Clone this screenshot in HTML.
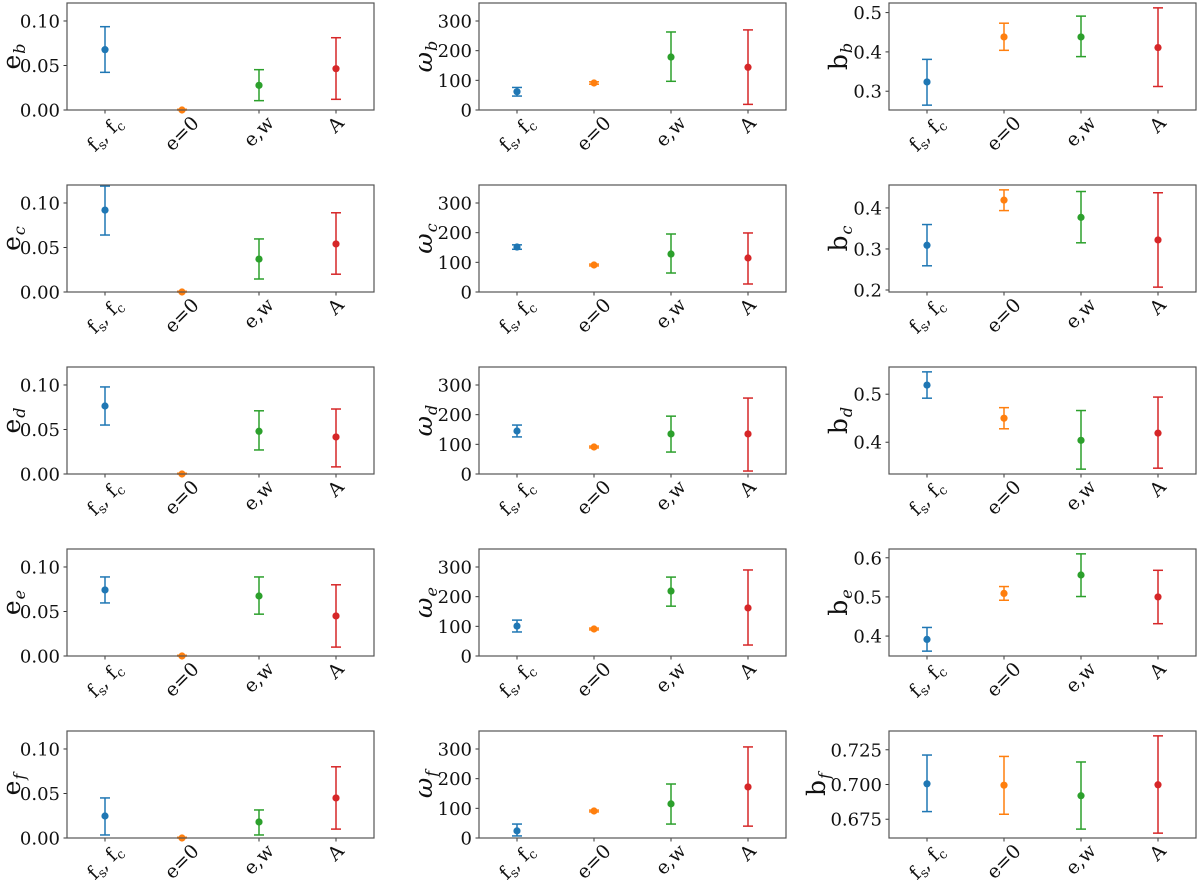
<!DOCTYPE html>
<html><head><meta charset="utf-8">
<style>
html,body{margin:0;padding:0;background:#fff;}
svg{display:block;font-family:"DejaVu Serif","Liberation Serif",serif;}
</style></head>
<body>
<svg id="fig" width="1200" height="885" viewBox="0 0 1200 885"></svg>
<script>
const categories = ["fs_fc","e=0","e,w","A"];
const colors = ["#1f77b4","#ff7f0e","#2ca02c","#d62728"];
const planets = ["b","c","d","e","f"];

const eVal = [[0.0678,0.0,0.0277,0.0464],[0.092,0.0,0.037,0.054],[0.0764,0.0,0.048,0.0416],[0.0742,0.0,0.0674,0.045],[0.0247,0.0,0.018,0.045]];
const eLo  = [[0.0423,0.0,0.0105,0.012],[0.064,0.0,0.0146,0.020],[0.055,0.0,0.027,0.008],[0.0596,0.0,0.047,0.010],[0.0034,0.0,0.0034,0.010]];
const eHi  = [[0.0936,0.0008,0.0453,0.0812],[0.119,0.0008,0.0596,0.089],[0.0978,0.0008,0.071,0.073],[0.0888,0.0008,0.0888,0.080],[0.045,0.0008,0.0315,0.080]];

const wVal = [[61.7,91,178.6,144],[151.6,91,128,114.6],[145,91,135,135],[101,91,219,162],[24,91,115,172]];
const wLo  = [[47,87,96.7,19],[144,88,64,27],[125,88,74,10],[81,88,168,37],[7,88,47,40]];
const wHi  = [[76,95,263,270],[159,94,195.5,199],[165,94,195,256],[121,94,266,290],[47,94,182,307]];

const bVal = [[0.3236,0.438,0.438,0.411],[0.309,0.419,0.377,0.322],[0.519,0.45,0.404,0.419],[0.3915,0.509,0.556,0.5],[0.7005,0.6995,0.6919,0.6998]];
const bLo  = [[0.2646,0.404,0.388,0.312],[0.259,0.3935,0.315,0.207],[0.4917,0.428,0.344,0.346],[0.3615,0.4915,0.501,0.4316],[0.6805,0.6786,0.6679,0.665]];
const bHi  = [[0.381,0.473,0.491,0.512],[0.3595,0.444,0.44,0.437],[0.5465,0.472,0.466,0.494],[0.422,0.5265,0.61,0.568],[0.7212,0.7202,0.7162,0.735]];

const eTicks = [0,0.05,0.10];
const eTickLabels = ["0.00","0.05","0.10"];
const wTicks = [0,100,200,300];
const wTickLabels = ["0","100","200","300"];
const bTicks = [[0.3,0.4,0.5],[0.2,0.3,0.4],[0.4,0.5],[0.4,0.5,0.6],[0.675,0.7,0.725]];
const bTickLabels = [["0.3","0.4","0.5"],["0.2","0.3","0.4"],["0.4","0.5"],["0.4","0.5","0.6"],["0.675","0.700","0.725"]];

const NS="http://www.w3.org/2000/svg";
const svg=document.getElementById("fig");
const colLeft=[67,479,889], W=307, H=107;
function mk(tag,attrs,parent){const el=document.createElementNS(NS,tag);for(const k in attrs)el.setAttribute(k,attrs[k]);(parent||svg).appendChild(el);return el;}

function drawPanel(col,row,vals,los,his,ticks,tickLabels,ylim,labelMain,labelItalic,labelX){
  const L=colLeft[col], T=3+182*row, B=T+H;
  const g=mk("g",{});
  
  
  const y=v=>B-(v-ylim[0])/(ylim[1]-ylim[0])*H;
  const x=i=>L+38+i*77;
  ticks.forEach((t,k)=>{
    const yy=y(t);
    const tk=mk("line",{x1:L-3.5,x2:L,y1:yy,y2:yy,stroke:"#333","stroke-width":1},g);
    
    
    const tl=mk("text",{x:L-7,y:yy+6.5,"text-anchor":"end","font-size":18,fill:"#111"},g);
    tl.textContent=tickLabels[k];
    
    
  });
  categories.forEach((c,i)=>{
    const xx=x(i);
    const tk=mk("line",{x1:xx,x2:xx,y1:B,y2:B+3.5,stroke:"#333","stroke-width":1},g);
    
    
    const t=mk("text",{"font-size":19,fill:"#111","text-anchor":"middle"},g);
    
    
    if(c==="fs_fc"){
      t.appendChild(document.createTextNode("f"));
      const s1=mk("tspan",{"font-size":13,dy:4},t);s1.textContent="s";
      const s2=mk("tspan",{dy:-4},t);s2.textContent=", f";
      const s3=mk("tspan",{"font-size":13,dy:4},t);s3.textContent="c";
    } else t.textContent=c;
    const w=t.getComputedTextLength?t.getComputedTextLength():40;
    const h=14;
    const cy=B+5+(w+h)/2.83;
    t.setAttribute("x",xx);t.setAttribute("y",cy+6);
    t.setAttribute("transform","rotate(-45 "+xx+" "+cy+")");
  });
  vals.forEach((v,i)=>{
    const xx=x(i), c=colors[i];
    const eb=mk("g",{},g);
    
    
    mk("line",{x1:xx,x2:xx,y1:y(los[i]),y2:y(his[i]),stroke:c,"stroke-width":1.5},eb);
    mk("line",{x1:xx-5,x2:xx+5,y1:y(los[i]),y2:y(los[i]),stroke:c,"stroke-width":1.5},eb);
    mk("line",{x1:xx-5,x2:xx+5,y1:y(his[i]),y2:y(his[i]),stroke:c,"stroke-width":1.5},eb);
    const pt=mk("circle",{cx:xx,cy:y(v),r:3.6,fill:c},eb);
    
    
  });
  const fr=mk("rect",{x:L,y:T,width:W,height:H,fill:"none",stroke:"#555","stroke-width":1.2},g);
  
  
  const cyl=T+H/2;
  const yl=mk("text",{x:labelX,y:cyl,"text-anchor":"middle","font-size":25,fill:"#111",transform:"rotate(-90 "+labelX+" "+cyl+")"},g);
  
  
  const m=mk("tspan",{"font-style":labelItalic?"italic":"normal"},yl);m.textContent=labelMain;
  const sb=mk("tspan",{"font-size":16,"font-style":"italic",dy:5,dx:1},yl);sb.textContent=planets[row];
}

for(let r=0;r<5;r++){
  drawPanel(0,r,eVal[r],eLo[r],eHi[r],eTicks,eTickLabels,[0,0.1202],"e",false,20);
  drawPanel(1,r,wVal[r],wLo[r],wHi[r],wTicks,wTickLabels,[0,360.7],"ω",true,432);
  const lo=Math.min(...bLo[r]), hi=Math.max(...bHi[r]), sp=hi-lo;
  drawPanel(2,r,bVal[r],bLo[r],bHi[r],bTicks[r],bTickLabels[r],[lo-0.05*sp,hi+0.05*sp],"b",false,r===4?825:847);
}
</script>
</body></html>
